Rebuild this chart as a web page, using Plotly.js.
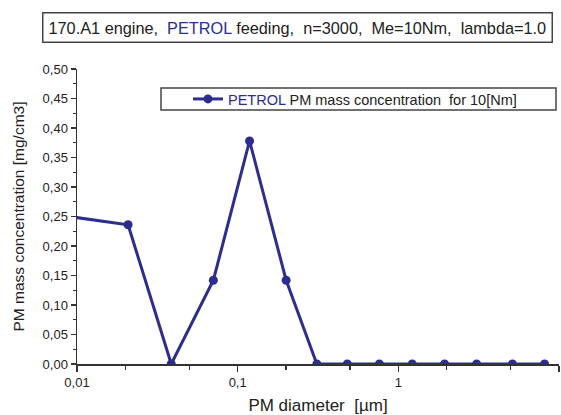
<!DOCTYPE html>
<html>
<head>
<meta charset="utf-8">
<script src="https://cdn.plot.ly/plotly-3.0.1.min.js"></script>
<style>html,body{margin:0;padding:0;background:#fff;}#chart{width:561px;height:415px;}</style>
</head>
<body>
<div id="chart"></div>
<script>
var diameters = [0.007, 0.0208, 0.0386, 0.0706, 0.1186, 0.2003, 0.311, 0.481, 0.762, 1.22, 1.94, 3.07, 5.13, 8.13];
var concentration = [0.254, 0.236, 0.0, 0.142, 0.378, 0.142, 0.0, 0.0, 0.0, 0.0, 0.0, 0.0, 0.0, 0.0];
var xTickVals = [0.01, 0.1, 1, 10];
var xTickText = ['0,01', '0,1', '1', '10'];
var seriesName = '<span style="color:#2b2e8f">PETROL</span> PM mass concentration  for 10[Nm]';
var titleText = '170.A1 engine,  <span style="color:#2b2e8f">PETROL</span> feeding,  n=3000,  Me=10Nm,  lambda=1.0';

var blue = '#2b2e8f';
var ink = '#222222';
var font = 'Liberation Sans, Arial, sans-serif';

var trace = {
  x: diameters, y: concentration, type: 'scatter', mode: 'lines+markers',
  name: seriesName,
  line: {color: blue, width: 3},
  marker: {color: blue, size: 9},
  cliponaxis: true
};

var layout = {
  width: 561, height: 415,
  margin: {l: 77, r: 2, t: 69, b: 51},
  paper_bgcolor: '#fff', plot_bgcolor: '#fff',
  font: {family: font, color: ink, size: 13},
  separators: ', ',
  showlegend: true,
  legend: {
    x: (188 - 77) / 482, xanchor: 'left', y: (364 - 99) / 295, yanchor: 'middle',
    bgcolor: 'rgba(0,0,0,0)', borderwidth: 0,
    font: {family: font, size: 14.5, color: ink}
  },
  shapes: [{
    type: 'rect', xref: 'paper', yref: 'paper',
    x0: (161 - 77) / 482, x1: (556 - 77) / 482,
    y0: (364 - 110) / 295, y1: (364 - 88) / 295,
    line: {color: '#444', width: 1.5}, fillcolor: 'rgba(0,0,0,0)'
  }],
  annotations: [{
    xref: 'paper', yref: 'paper',
    x: (297 - 77) / 482, y: (364 - 27.5) / 295,
    xanchor: 'center', yanchor: 'middle',
    text: titleText, showarrow: false,
    font: {family: font, size: 16.3, color: ink},
    bordercolor: '#444', borderwidth: 1.5, borderpad: 5, bgcolor: '#fff'
  }],
  xaxis: {
    type: 'log', range: [-2, 1],
    tickvals: xTickVals, ticktext: xTickText,
    ticks: 'outside', ticklen: 6, tickwidth: 1.5, tickcolor: '#333',
    minor: {ticks: 'outside', ticklen: 4, tickwidth: 1.2, tickcolor: '#333', dtick: 'D2', showgrid: false},
    showline: true, linecolor: '#333', linewidth: 1.5, mirror: false,
    showgrid: false, zeroline: false,
    tickfont: {family: font, size: 13, color: ink},
    title: {text: 'PM diameter  [µm]', font: {family: font, size: 17, color: ink}, standoff: 10}
  },
  yaxis: {
    range: [0, 0.5], dtick: 0.05, tickformat: '.2f',
    ticks: 'outside', ticklen: 5, tickwidth: 1.5, tickcolor: '#333',
    minor: {ticks: 'outside', ticklen: 3, tickwidth: 1.2, tickcolor: '#333', dtick: 0.025, showgrid: false},
    showline: true, linecolor: '#333', linewidth: 1.5, mirror: false,
    showgrid: false, zeroline: false,
    tickfont: {family: font, size: 13, color: ink},
    title: {text: 'PM mass concentration [mg/cm3]', font: {family: font, size: 15.5, color: ink}, standoff: 14}
  }
};

Plotly.newPlot('chart', [trace], layout, {displayModeBar: false, staticPlot: true});
</script>
</body>
</html>
